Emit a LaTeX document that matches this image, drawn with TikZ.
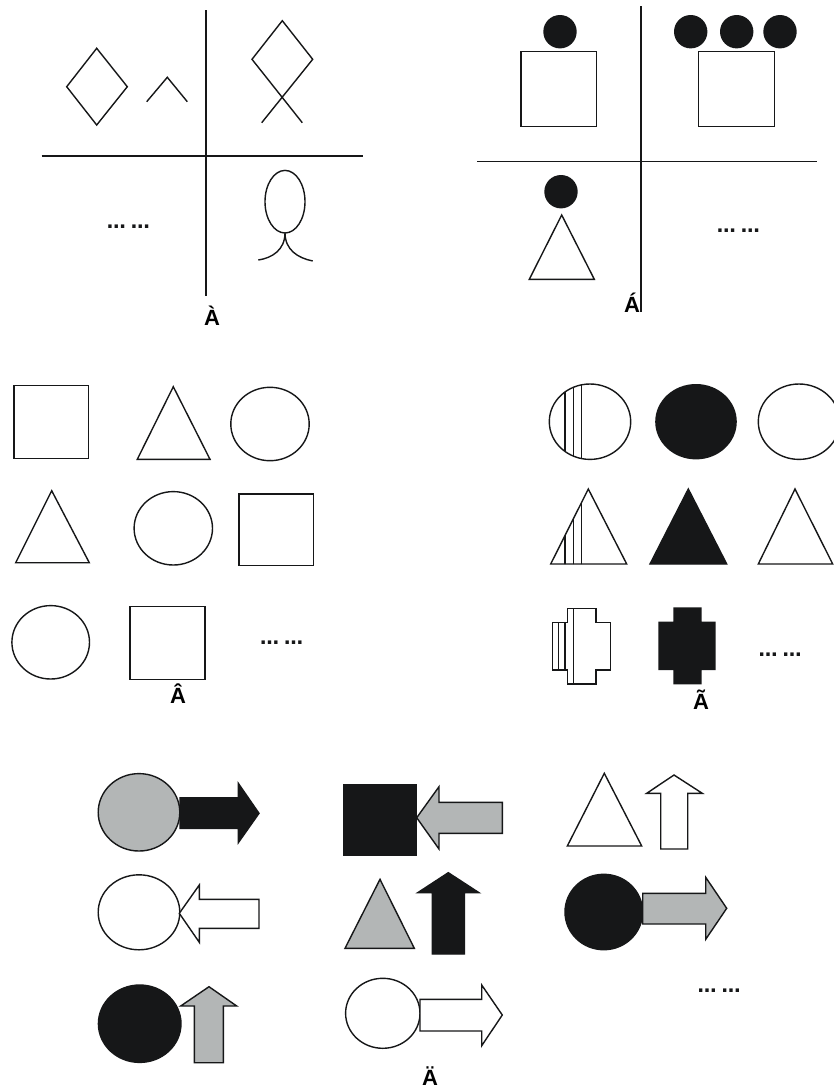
\documentclass[tikz,border=0pt]{standalone}
\usepackage{fontspec}
\setmainfont{Liberation Sans}
\newfontfamily\dotfont{DejaVu Sans}
\definecolor{shgray}{RGB}{179,182,182}
\definecolor{shblack}{RGB}{22,23,24}
\begin{document}
\begin{tikzpicture}[x=1pt,y=-1pt,line join=miter,
  ln/.style={line width=1.4pt,draw=shblack},
  blk/.style={ln,fill=shblack},
  gry/.style={ln,fill=shgray},
  wht/.style={ln,fill=white},
  lbl/.style={font=\bfseries\fontsize{22}{22}\selectfont,anchor=base,inner sep=0pt,text depth=0pt},
  dotsx/.style={font=\dotfont\bfseries\fontsize{19}{19}\selectfont,inner sep=0pt,text=shblack}]
\useasboundingbox (0,0) rectangle (834,1088);
\fill[white] (0,0) rectangle (834,1088);
% ---------- panel A-grave ----------
\draw[ln] (206,10) -- (206,296);
\draw[ln] (41.7,156) -- (363,156);
\draw[ln] (96.7,48.3) -- (127.3,86.7) -- (96.7,125) -- (66.7,86.7) -- cycle;
\draw[ln] (146.7,101.7) -- (167.3,77.3) -- (187.3,101.7);
\draw[ln] (302.3,122.7) -- (252,59.3) -- (282.3,20.7) -- (312.7,59.3) -- (261.7,122.7);
\draw[ln] (285,201.7) ellipse [x radius=20,y radius=31.3];
\draw[ln] (258.3,260) .. controls (272,258) and (285,250) .. (285,232.7)
          .. controls (285,250) and (298,258) .. (312.7,261);
\node[dotsx] (d1) at (128.3,227) {…\hspace{5pt}…};
\node[lbl] (l1) at (212,325) {À};
% ---------- panel A-acute ----------
\draw[ln] (641,6) -- (641,312);
\draw[ln] (477.3,161.7) -- (817.3,161.7);
\draw[ln] (521,51.7) rectangle (596.7,126.7);
\fill[shblack] (560,31.7) circle (16.7);
\draw[ln] (698.3,51.7) rectangle (774.3,126.3);
\fill[shblack] (690.7,31.7) circle (16.7);
\fill[shblack] (736.7,31.7) circle (16.7);
\fill[shblack] (780,31.7) circle (16.7);
\fill[shblack] (561,191.7) circle (16.7);
\draw[ln] (561.7,215) -- (594.3,279.3) -- (529.3,279.3) -- cycle;
\node[dotsx] (d2) at (738.3,231) {…\hspace{5pt}…};
\node[lbl] (l2) at (632,312.3) {Á};
% ---------- panel A-circumflex ----------
\draw[ln] (14,385.7) rectangle (88.3,458.3);
\draw[ln] (173.3,386.7) -- (210,459.3) -- (137.3,459.3) -- cycle;
\draw[ln] (270,424) ellipse [x radius=39.2,y radius=36.7];
\draw[ln] (51.7,490.7) -- (89.3,562.7) -- (15.7,562.7) -- cycle;
\draw[ln] (173.3,528.3) ellipse [x radius=39.2,y radius=36.7];
\draw[ln] (239,494) rectangle (313.3,565.7);
\draw[ln] (50.7,642.3) ellipse [x radius=38.8,y radius=36.7];
\draw[ln] (130,606.7) rectangle (205,679.3);
\node[dotsx] (d3) at (281.7,643) {…\hspace{5pt}…};
\node[lbl] (l3) at (178,703) {Â};
% ---------- panel A-tilde ----------
\begin{scope}
  \clip (590,421.7) ellipse [x radius=40.7,y radius=37.7];
  \draw[ln] (565,380) -- (565,460);
  \draw[ln] (573.3,380) -- (573.3,460);
  \draw[ln] (581.7,380) -- (581.7,460);
\end{scope}
\draw[ln] (590,421.7) ellipse [x radius=40.7,y radius=37.7];
\fill[shblack] (696,421.7) ellipse [x radius=40.8,y radius=37.7];
\draw[ln] (799,421.7) ellipse [x radius=40.7,y radius=37.7];
\begin{scope}
  \clip (588.3,489) -- (626.7,564) -- (550.7,564) -- cycle;
  \draw[ln] (565,480) -- (565,570);
  \draw[ln] (573.3,480) -- (573.3,570);
  \draw[ln] (581.7,480) -- (581.7,570);
\end{scope}
\draw[ln] (588.3,489) -- (626.7,564) -- (550.7,564) -- cycle;
\draw[blk] (688.3,489) -- (726.7,564) -- (650,564) -- cycle;
\draw[ln] (795,489) -- (832.7,564) -- (758.3,564) -- cycle;
\draw[ln] (567.7,608.3) -- (596,608.3) -- (596,622.7) -- (610.7,622.7) -- (610.7,670)
  -- (596,670) -- (596,684) -- (567.7,684) -- (567.7,670) -- (552.7,670)
  -- (552.7,622.7) -- (567.7,622.7) -- cycle;
\draw[ln] (558.3,622.7) -- (558.3,670);
\draw[ln] (565,622.7) -- (565,670);
\draw[ln] (573.3,608.3) -- (573.3,684);
\fill[shblack] (673.3,607.3) -- (701.7,607.3) -- (701.7,621.7) -- (715.7,621.7) -- (715.7,670)
  -- (701.7,670) -- (701.7,684.3) -- (673.3,684.3) -- (673.3,670) -- (658.3,670)
  -- (658.3,621.7) -- (673.3,621.7) -- cycle;
\node[dotsx] (d4) at (780,655) {…\hspace{5pt}…};
\node[lbl] (l4) at (701,709) {Ã};
% ---------- panel A-dieresis ----------
% row 1
\draw[gry] (139,812.3) ellipse [x radius=40.8,y radius=38.7];
\draw[blk] (180,797.7) -- (238.3,797.7) -- (238.3,783.3) -- (259,813.3) -- (238.3,842.7)
  -- (238.3,828.3) -- (180,828.3) -- cycle;
\draw[blk] (344,785) rectangle (416,855);
\draw[gry] (416.7,817.7) -- (439,786.7) -- (439,802.3) -- (502.3,802.3) -- (502.3,833.3)
  -- (439,833.3) -- (439,849) -- cycle;
\draw[wht] (604.3,773.3) -- (641.7,846) -- (567.3,846) -- cycle;
\draw[wht] (674,775) -- (702.3,793.3) -- (687.7,793.3) -- (687.7,849) -- (660.7,849)
  -- (660.7,793.3) -- (646.7,793.3) -- cycle;
% row 2
\draw[wht] (139,912.3) ellipse [x radius=40.8,y radius=37.5];
\draw[wht] (179.3,913.3) -- (199.3,885) -- (199.3,899.3) -- (259,899.3) -- (259,928.3)
  -- (199.3,928.3) -- (199.3,942.3) -- cycle;
\draw[gry] (380,879.3) -- (414.3,948.3) -- (345,948.3) -- cycle;
\draw[blk] (448.3,872.7) -- (479,892.7) -- (464.3,892.7) -- (464.3,954) -- (432.3,954)
  -- (432.3,892.7) -- (417.7,892.7) -- cycle;
\draw[blk] (603.8,912) ellipse [x radius=38.8,y radius=37.7];
\draw[gry] (642.7,893.3) -- (705.7,893.3) -- (705.7,877.3) -- (726.7,908.3) -- (705.7,939.3)
  -- (705.7,924) -- (642.7,924) -- cycle;
% row 3
\draw[blk] (139.7,1023.7) ellipse [x radius=41.3,y radius=38.7];
\draw[gry] (209,986.7) -- (236.7,1006) -- (223.3,1006) -- (223.3,1062.7) -- (194.3,1062.7)
  -- (194.3,1006) -- (180.7,1006) -- cycle;
\draw[wht] (382.8,1013.3) ellipse [x radius=37.2,y radius=35];
\draw[wht] (420,999.3) -- (481.7,999.3) -- (481.7,985) -- (502.3,1015) -- (481.7,1045.7)
  -- (481.7,1031) -- (420,1031) -- cycle;
\node[dotsx] (d5) at (719,991) {…\hspace{5pt}…};
\node[lbl] (l5) at (430,1085.5) {Ä};
\end{tikzpicture}
\end{document}
